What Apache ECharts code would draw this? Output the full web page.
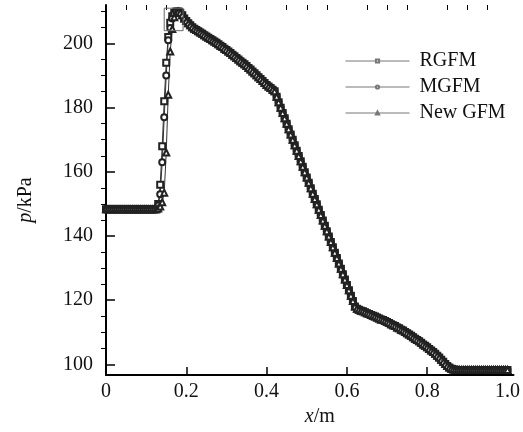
<!DOCTYPE html>
<html>
<head>
<meta charset="utf-8">
<script src="https://cdn.jsdelivr.net/npm/echarts@6/dist/echarts.min.js"></script>
<style>
  html, body { margin: 0; padding: 0; background: #fff; }
  #chart { width: 523px; height: 432px; }
</style>
</head>
<body>
<div id="chart"></div>
<script>
// grid step of the solution (m)
const dx = 0.005

// p (kPa) for x = 0 .. 0.125, the same for all three methods
const leftState = [
  148.3, 148.3, 148.3, 148.3, 148.3, 148.3, 148.3, 148.3, 148.3, 148.3,
  148.3, 148.3, 148.3, 148.3, 148.3, 148.3, 148.3, 148.3, 148.3, 148.3,
  148.3, 148.3, 148.3, 148.3, 148.3, 148.3
]

// x = 0.13 .. 0.185, where the three methods differ
const rgfmShock = [150.0, 156.0, 168.0, 182.0, 194.0, 202.0, 206.5, 208.5, 209.5, 210.0, 210.0, 209.6]
const mgfmShock = [149.5, 153.0, 163.0, 177.0, 190.0, 201.0, 204.8, 207.8, 209.3, 209.9, 210.0, 209.6]
const newShock = [148.6, 149.2, 150.5, 153.5, 166.0, 184.0, 197.5, 204.5, 208.2, 209.5, 209.9, 209.6]

// x = 0.19 .. 1.0, the same for all three methods
const rightPart = [
  // 0.19 .. 0.42
  208.8, 207.8, 207.0, 206.3, 205.7, 205.1, 204.6, 204.2, 203.8, 203.4,
  203.0, 202.6, 202.2, 201.8, 201.4, 201.0, 200.6, 200.2, 199.8, 199.3,
  198.9, 198.4, 198.0, 197.5, 197.0, 196.5, 196.0, 195.5, 195.0, 194.5,
  194.0, 193.5, 193.0, 192.4, 191.9, 191.3, 190.7, 190.1, 189.5, 188.9,
  188.3, 187.7, 187.1, 186.6, 186.1, 185.6, 185.1,
  // 0.425 .. 0.62
  183.4, 181.7, 180.0, 178.3, 176.7, 175.0, 173.3, 171.6, 170.0, 168.3,
  166.6, 164.9, 163.3, 161.6, 159.9, 158.2, 156.6, 154.9, 153.2, 151.5,
  149.9, 148.2, 146.5, 144.8, 143.2, 141.5, 139.8, 138.1, 136.5, 134.8,
  133.1, 131.4, 129.8, 128.1, 126.4, 124.7, 123.1, 121.4, 119.7, 118.0,
  // 0.625 .. 0.87
  117.3, 117.0, 116.7, 116.5, 116.2, 115.9, 115.7, 115.4, 115.1, 114.9,
  114.6, 114.3, 114.0, 113.8, 113.5, 113.2, 112.9, 112.5, 112.2, 111.9,
  111.5, 111.2, 110.8, 110.5, 110.1, 109.7, 109.3, 108.9, 108.4, 108.0,
  107.6, 107.2, 106.7, 106.2, 105.8, 105.3, 104.8, 104.3, 103.8, 103.3,
  102.7, 102.1, 101.4, 100.8, 100.1, 99.5, 99.0, 98.6, 98.4, 98.3,
  // 0.875 .. 1.0
  98.2, 98.2, 98.2, 98.2, 98.2, 98.2, 98.2, 98.2, 98.2, 98.2,
  98.2, 98.2, 98.2, 98.2, 98.2, 98.2, 98.2, 98.2, 98.2, 98.2,
  98.2, 98.2, 98.2, 98.2, 98.2, 98.2
]

const seriesNames = ['RGFM', 'MGFM', 'New GFM']
const seriesSymbols = ['emptyRect', 'emptyCircle', 'emptyTriangle']

const xMajor = [0, 0.2, 0.4, 0.6, 0.8, 1.0]
const xMinor = [0.05, 0.1, 0.15, 0.25, 0.3, 0.35, 0.45, 0.5, 0.55, 0.65, 0.7, 0.75, 0.85, 0.9, 0.95]
const yMajor = [100, 120, 140, 160, 180, 200]
const yMinor = [105, 110, 115, 125, 130, 135, 145, 150, 155, 165, 170, 175, 185, 190, 195, 205, 210]

// little box drawn round the peak: x range, p range
const boxX = [0.145, 0.192]
const boxP = [204.0, 211.0]

function toPoints(values) {
  return values.map((p, i) => [+(i * dx).toFixed(3), p])
}

const profiles = [
  leftState.concat(rgfmShock, rightPart),
  leftState.concat(mgfmShock, rightPart),
  leftState.concat(newShock, rightPart)
]

const chart = echarts.init(document.getElementById('chart'))

const serif = 'Liberation Serif'
const axisCommon = {
  type: 'value',
  splitLine: { show: false }
}
const italic = { fontFamily: serif, fontSize: 20, fontStyle: 'italic', color: '#111' }

const curveSeries = seriesNames.map((name, k) => ({
  name: name,
  type: 'line',
  data: toPoints(profiles[k]),
  symbol: seriesSymbols[k],
  symbolSize: 6,
  color: '#222',
  itemStyle: { color: '#222', borderWidth: 1 },
  lineStyle: { color: '#333', width: 1 }
}))

const boxSeries = {
  name: 'box',
  type: 'line',
  silent: true,
  symbol: 'none',
  z: 5,
  lineStyle: { color: '#666', width: 1 },
  data: [
    [boxX[0], boxP[0]], [boxX[1], boxP[0]], [boxX[1], boxP[1]],
    [boxX[0], boxP[1]], [boxX[0], boxP[0]]
  ]
}

chart.setOption({
  animation: false,
  backgroundColor: '#fff',
  grid: { left: 106, right: 5, top: 5, bottom: 51 },
  legend: {
    orient: 'vertical',
    left: 340,
    top: 46,
    itemWidth: 64,
    itemHeight: 4,
    itemGap: 6,
    data: seriesNames,
    lineStyle: { color: '#777', width: 1 },
    itemStyle: { color: '#777' },
    textStyle: {
      fontFamily: serif,
      fontSize: 20,
      lineHeight: 20,
      color: '#111',
      padding: [0, 0, 0, 5]
    }
  },
  xAxis: [
    Object.assign({}, axisCommon, {
      min: 0,
      max: 1.015,
      name: '{i|x}/m',
      nameLocation: 'middle',
      nameGap: 30,
      nameTextStyle: {
        fontFamily: serif,
        fontSize: 20,
        color: '#111',
        padding: [0, 0, 0, 20],
        rich: { i: italic }
      },
      axisLine: { lineStyle: { color: '#000', width: 2 } },
      axisTick: { inside: true, length: 8, customValues: xMajor, lineStyle: { color: '#000', width: 1.5 } },
      axisLabel: {
        customValues: xMajor,
        margin: 7,
        fontFamily: serif,
        fontSize: 20,
        color: '#111',
        formatter: v => (v === 0 ? '0' : v.toFixed(1))
      }
    }),
    Object.assign({}, axisCommon, {
      min: 0,
      max: 1.015,
      axisLine: { show: false },
      axisTick: { inside: true, length: 5, customValues: xMinor, lineStyle: { color: '#000', width: 1 } },
      axisLabel: { show: false }
    })
  ],
  yAxis: [
    Object.assign({}, axisCommon, {
      min: 96.63,
      max: 212,
      name: '{i|p}/kPa',
      nameLocation: 'middle',
      nameGap: 70,
      nameTextStyle: {
        fontFamily: serif,
        fontSize: 20,
        color: '#111',
        padding: [0, 20, 0, 0],
        rich: { i: italic }
      },
      axisLine: { lineStyle: { color: '#000', width: 2 } },
      axisTick: { inside: true, length: 9, customValues: yMajor, lineStyle: { color: '#000', width: 1.5 } },
      axisLabel: { customValues: yMajor, margin: 13, fontFamily: serif, fontSize: 20, color: '#111' }
    }),
    Object.assign({}, axisCommon, {
      min: 96.63,
      max: 212,
      axisLine: { show: false },
      axisTick: { inside: true, length: 5, customValues: yMinor, lineStyle: { color: '#000', width: 1 } },
      axisLabel: { show: false }
    })
  ],
  series: [boxSeries].concat(curveSeries)
})
</script>
</body>
</html>
